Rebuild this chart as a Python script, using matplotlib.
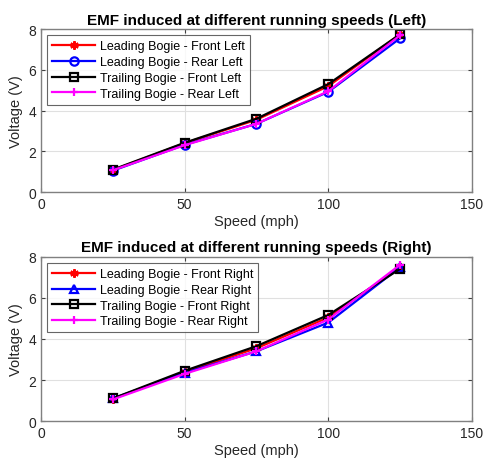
import matplotlib
matplotlib.use("Agg")
import matplotlib.pyplot as plt

plt.rcParams['font.family'] = ['Liberation Sans', 'DejaVu Sans']

speed = [25, 50, 75, 100, 125]

left_lead_front = [1.08, 2.40, 3.55, 5.20, 7.75]
left_lead_rear = [1.05, 2.32, 3.35, 4.92, 7.55]
left_trail_front = [1.10, 2.42, 3.60, 5.30, 7.75]
left_trail_rear = [1.07, 2.30, 3.35, 4.95, 7.70]

right_lead_front = [1.08, 2.40, 3.55, 5.05, 7.50]
right_lead_rear = [1.10, 2.35, 3.40, 4.80, 7.50]
right_trail_front = [1.10, 2.45, 3.65, 5.17, 7.42]
right_trail_rear = [1.05, 2.30, 3.40, 4.95, 7.62]

x_ticks = [0, 50, 100, 150]
y_ticks = [0, 2, 4, 6, 8]

titles = ["EMF induced at different running speeds (Left)",
          "EMF induced at different running speeds (Right)"]
labels_left = ["Leading Bogie - Front Left", "Leading Bogie - Rear Left",
               "Trailing Bogie - Front Left", "Trailing Bogie - Rear Left"]
labels_right = ["Leading Bogie - Front Right", "Leading Bogie - Rear Right",
                "Trailing Bogie - Front Right", "Trailing Bogie - Rear Right"]

fig = plt.figure(figsize=(4.86, 4.64), dpi=100)
ax1 = fig.add_axes([0.0844, 0.584, 0.8866, 0.351])
ax2 = fig.add_axes([0.0844, 0.0905, 0.8866, 0.3535])

asterisk = (6, 2, 0)
styles_left = [("red", asterisk), ("blue", "o"), ("black", "s"), ("magenta", "+")]
styles_right = [("red", asterisk), ("blue", "^"), ("black", "s"), ("magenta", "+")]

for ax, data, labels, styles, title in [
    (ax1, [left_lead_front, left_lead_rear, left_trail_front, left_trail_rear], labels_left, styles_left, titles[0]),
    (ax2, [right_lead_front, right_lead_rear, right_trail_front, right_trail_rear], labels_right, styles_right, titles[1]),
]:
    for vals, lab, (c, m) in zip(data, labels, styles):
        ax.plot(speed, vals, color=c, marker=m, markersize=6, linewidth=1.6,
                markerfacecolor='none', markeredgecolor=c, markeredgewidth=1.6, label=lab)
    ax.set_xlim(0, 150)
    ax.set_ylim(0, 8)
    ax.set_xticks(x_ticks)
    ax.set_yticks(y_ticks)
    ax.grid(True, color='#e0e0e0', linewidth=0.8)
    ax.set_axisbelow(True)
    for s in ax.spines.values():
        s.set_color('#808080')
        s.set_linewidth(1.0)
    ax.tick_params(direction='in', colors='#404040', labelsize=10, length=3,
                   top=True, right=True)
    ax.tick_params(labelcolor='#262626')
    ax.set_title(title, fontsize=11, fontweight='bold', pad=4)
    ax.set_xlabel("Speed (mph)", fontsize=10.5, color='#262626', labelpad=2)
    ax.set_ylabel("Voltage (V)", fontsize=10.5, color='#262626', labelpad=4)
    leg = ax.legend(loc='upper left', fontsize=9, frameon=True, fancybox=False,
                    edgecolor='#404040', borderpad=0.4, labelspacing=0.3,
                    handlelength=3.4, handletextpad=0.4, borderaxespad=0.5)
    leg.get_frame().set_linewidth(0.8)

fig.savefig("out.png", dpi=100)
